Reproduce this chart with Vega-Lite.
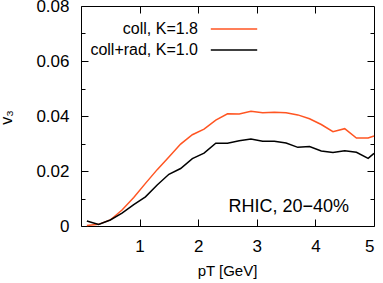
{
  "$schema": "https://vega.github.io/schema/vega-lite/v6.json",
  "width": 293,
  "height": 220,
  "autosize": "none",
  "padding": {"left": 81, "top": 6, "right": 9, "bottom": 57},
  "config": {
    "view": {"stroke": "black", "strokeWidth": 1},
    "font": "Liberation Sans",
    "axis": {"grid": false, "domain": false, "tickColor": "black", "tickWidth": 1, "labelColor": "black", "titleColor": "black", "labelFont": "Liberation Sans", "titleFont": "Liberation Sans", "titleFontWeight": "normal"}
  },
  "datasets": {
    "curves": [
      {"model": "coll, K=1.8", "pt": 0.1, "v3": 0.0002},
      {"model": "coll, K=1.8", "pt": 0.3, "v3": 0.0006},
      {"model": "coll, K=1.8", "pt": 0.5, "v3": 0.0022},
      {"model": "coll, K=1.8", "pt": 0.7, "v3": 0.0058},
      {"model": "coll, K=1.8", "pt": 0.9, "v3": 0.0104},
      {"model": "coll, K=1.8", "pt": 1.1, "v3": 0.0155},
      {"model": "coll, K=1.8", "pt": 1.3, "v3": 0.0205},
      {"model": "coll, K=1.8", "pt": 1.5, "v3": 0.0251},
      {"model": "coll, K=1.8", "pt": 1.7, "v3": 0.0298},
      {"model": "coll, K=1.8", "pt": 1.9, "v3": 0.0332},
      {"model": "coll, K=1.8", "pt": 2.1, "v3": 0.0352},
      {"model": "coll, K=1.8", "pt": 2.3, "v3": 0.0385},
      {"model": "coll, K=1.8", "pt": 2.5, "v3": 0.0408},
      {"model": "coll, K=1.8", "pt": 2.7, "v3": 0.0407},
      {"model": "coll, K=1.8", "pt": 2.9, "v3": 0.0417},
      {"model": "coll, K=1.8", "pt": 3.1, "v3": 0.0412},
      {"model": "coll, K=1.8", "pt": 3.3, "v3": 0.0414},
      {"model": "coll, K=1.8", "pt": 3.5, "v3": 0.0412},
      {"model": "coll, K=1.8", "pt": 3.7, "v3": 0.0404},
      {"model": "coll, K=1.8", "pt": 3.9, "v3": 0.039},
      {"model": "coll, K=1.8", "pt": 4.1, "v3": 0.0369},
      {"model": "coll, K=1.8", "pt": 4.3, "v3": 0.0343},
      {"model": "coll, K=1.8", "pt": 4.5, "v3": 0.0354},
      {"model": "coll, K=1.8", "pt": 4.7, "v3": 0.032},
      {"model": "coll, K=1.8", "pt": 4.9, "v3": 0.032},
      {"model": "coll, K=1.8", "pt": 5.0, "v3": 0.0327},
      {"model": "coll+rad, K=1.0", "pt": 0.1, "v3": 0.0018},
      {"model": "coll+rad, K=1.0", "pt": 0.3, "v3": 0.0006},
      {"model": "coll+rad, K=1.0", "pt": 0.5, "v3": 0.0022},
      {"model": "coll+rad, K=1.0", "pt": 0.7, "v3": 0.0047},
      {"model": "coll+rad, K=1.0", "pt": 0.9, "v3": 0.0078},
      {"model": "coll+rad, K=1.0", "pt": 1.1, "v3": 0.0106},
      {"model": "coll+rad, K=1.0", "pt": 1.3, "v3": 0.0149},
      {"model": "coll+rad, K=1.0", "pt": 1.5, "v3": 0.0188},
      {"model": "coll+rad, K=1.0", "pt": 1.7, "v3": 0.0209},
      {"model": "coll+rad, K=1.0", "pt": 1.9, "v3": 0.0245},
      {"model": "coll+rad, K=1.0", "pt": 2.1, "v3": 0.0265},
      {"model": "coll+rad, K=1.0", "pt": 2.3, "v3": 0.0301},
      {"model": "coll+rad, K=1.0", "pt": 2.5, "v3": 0.0301},
      {"model": "coll+rad, K=1.0", "pt": 2.7, "v3": 0.031},
      {"model": "coll+rad, K=1.0", "pt": 2.9, "v3": 0.0316},
      {"model": "coll+rad, K=1.0", "pt": 3.1, "v3": 0.0308},
      {"model": "coll+rad, K=1.0", "pt": 3.3, "v3": 0.0308},
      {"model": "coll+rad, K=1.0", "pt": 3.5, "v3": 0.0302},
      {"model": "coll+rad, K=1.0", "pt": 3.7, "v3": 0.0286},
      {"model": "coll+rad, K=1.0", "pt": 3.9, "v3": 0.0289},
      {"model": "coll+rad, K=1.0", "pt": 4.1, "v3": 0.0273},
      {"model": "coll+rad, K=1.0", "pt": 4.3, "v3": 0.0267},
      {"model": "coll+rad, K=1.0", "pt": 4.5, "v3": 0.0274},
      {"model": "coll+rad, K=1.0", "pt": 4.7, "v3": 0.0268},
      {"model": "coll+rad, K=1.0", "pt": 4.9, "v3": 0.0246},
      {"model": "coll+rad, K=1.0", "pt": 5.0, "v3": 0.0264}
    ],
    "notes": [
      {"label": "RHIC, 20−40%"}
    ]
  },
  "data": {"name": "curves"},
  "layer": [
    {
      "mark": {"type": "line", "strokeWidth": 1.5},
      "encoding": {
        "x": {"field": "pt", "type": "quantitative", "scale": {"domain": [0, 5], "nice": false},
          "axis": {"orient": "bottom", "values": [1, 2, 3, 4, 5], "tickSize": -7, "labelFontSize": 17, "labelPadding": 19, "title": "pT [GeV]", "titleFontSize": 15, "titleX": 146, "titleY": 49, "titleBaseline": "alphabetic", "titleAlign": "center"}},
        "y": {"field": "v3", "type": "quantitative", "scale": {"domain": [0, 0.08], "nice": false},
          "axis": {"orient": "left", "values": [0, 0.02, 0.04, 0.06, 0.08], "tickSize": -7, "labelFontSize": 17, "labelPadding": 19, "labelExpr": "datum.value == 0 ? '0' : format(datum.value, '.2f')", "title": "v₃", "titleFontSize": 16, "titleX": -70, "titleY": 111, "titleAngle": 270, "titleBaseline": "alphabetic", "titleAlign": "center"}},
        "color": {"field": "model", "type": "nominal",
          "scale": {"domain": ["coll, K=1.8", "coll+rad, K=1.0"], "range": ["#ff5522", "#000000"]},
          "legend": {"orient": "none", "legendX": 144, "legendY": 14, "title": null, "symbolType": "M-2.9,0H2.9", "symbolSize": 256, "symbolStrokeWidth": 1.5, "labelAlign": "right", "labelOffset": -45, "labelFontSize": 16, "labelFont": "Liberation Sans", "labelColor": "black", "rowPadding": 4, "padding": 0, "symbolOffset": 0}}
      }
    },
    {
      "mark": {"type": "point", "opacity": 0},
      "encoding": {
        "x": {"field": "pt", "type": "quantitative", "axis": {"orient": "top", "values": [1, 2, 3, 4], "tickSize": -7, "labels": false, "title": null}},
        "y": {"field": "v3", "type": "quantitative", "axis": {"orient": "right", "values": [0.02, 0.04, 0.06], "tickSize": -7, "labels": false, "title": null}}
      }
    },
    {
      "mark": {"type": "point", "opacity": 0},
      "encoding": {
        "x": {"field": "pt", "type": "quantitative", "axis": null},
        "y": {"field": "v3", "type": "quantitative", "axis": {"orient": "left", "values": [0.01, 0.03, 0.05, 0.07], "tickSize": -4, "labels": false, "title": null}}
      }
    },
    {
      "mark": {"type": "point", "opacity": 0},
      "encoding": {
        "x": {"field": "pt", "type": "quantitative", "axis": null},
        "y": {"field": "v3", "type": "quantitative", "axis": {"orient": "right", "values": [0.01, 0.03, 0.05, 0.07], "tickSize": -4, "labels": false, "title": null}}
      }
    },
    {
      "data": {"name": "notes"},
      "mark": {"type": "text", "align": "right", "baseline": "alphabetic", "fontSize": 18, "font": "Liberation Sans", "color": "black"},
      "encoding": {
        "x": {"datum": 4.573, "type": "quantitative", "axis": null},
        "y": {"datum": 0.0052, "type": "quantitative", "axis": null},
        "text": {"field": "label", "type": "nominal"}
      }
    }
  ],
  "resolve": {"axis": {"x": "independent", "y": "independent"}}
}
